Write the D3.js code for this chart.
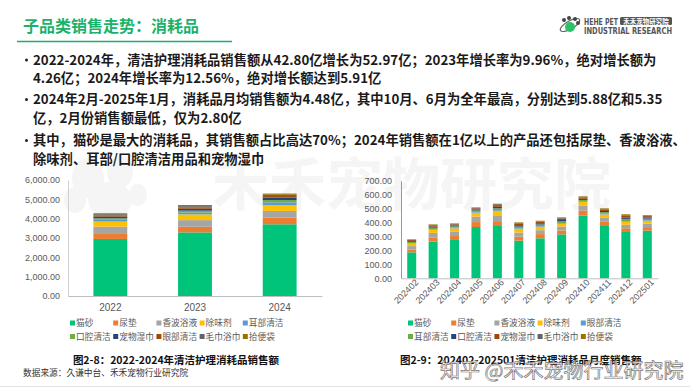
<!DOCTYPE html>
<html>
<head>
<meta charset="utf-8">
<script src="https://cdn.jsdelivr.net/npm/d3@7"></script>
<style>
  body { margin: 0; background: #fff; }
  svg { display: block; font-family: "Noto Sans CJK SC", "Noto Sans", sans-serif; }
</style>
</head>
<body>
<svg id="chart" width="690" height="388"></svg>
<script>
// annual data (百万元)
var years = ['2022', '2023', '2024'];
var yearSeries = ['猫砂', '尿垫', '香波浴液', '除味剂', '耳部清洁', '口腔清洁', '宠物湿巾', '眼部清洁', '毛巾浴巾', '拾便袋'];
var yearValues = [
  [2950, 3290, 3710],
  [260, 290, 345],
  [380, 345, 345],
  [260, 295, 295],
  [90, 100, 150],
  [80, 95, 120],
  [90, 100, 130],
  [60, 70, 75],
  [60, 61, 65],
  [50, 60, 62]
];
var yearTicks = [0, 1000, 2000, 3000, 4000, 5000, 6000];

// monthly data (百万元)
var months = ['202402', '202403', '202404', '202405', '202406', '202407', '202408', '202409', '202410', '202411', '202412', '202501'];
var monthSeries = ['猫砂', '尿垫', '香波浴液', '除味剂', '眼部清洁', '耳部清洁', '口腔清洁', '宠物湿巾', '毛巾浴巾', '拾便袋'];
var monthValues = [
  [186, 263, 275, 368, 375, 270, 287, 315, 449, 375, 332, 342],
  [20, 28, 28, 35, 35, 28, 30, 28, 38, 30, 27, 25],
  [25, 35, 30, 40, 42, 30, 28, 28, 35, 28, 25, 25],
  [18, 22, 25, 28, 30, 25, 25, 20, 25, 25, 22, 20],
  [4, 5, 5, 5, 6, 5, 5, 5, 5, 5, 5, 5],
  [8, 10, 9, 10, 14, 13, 11, 12, 10, 11, 15, 11],
  [6, 8, 7, 8, 11, 10, 9, 10, 9, 9, 11, 9],
  [7, 9, 8, 8, 12, 11, 10, 11, 9, 10, 12, 9],
  [3, 4, 4, 4, 6, 5, 4, 4, 4, 5, 5, 4],
  [3, 3, 3, 3, 4, 4, 4, 4, 4, 4, 5, 4]
];
var monthTicks = [0, 100, 200, 300, 400, 500, 600, 700];

var palette = ['#00c47a', '#ed7d31', '#a5a5a5', '#ffc000', '#5b9bd5', '#70ad47', '#264478', '#9e480e', '#636363', '#997300'];

var bullets = [
  ['2022-2024年，清洁护理消耗品销售额从42.80亿增长为52.97亿；2023年增长率为9.96%，绝对增长额为',
   '4.26亿；2024年增长率为12.56%，绝对增长额达到5.91亿'],
  ['2024年2月-2025年1月，消耗品月均销售额为4.48亿，其中10月、6月为全年最高，分别达到5.88亿和5.35',
   '亿，2月份销售额最低，仅为2.80亿'],
  ['其中，猫砂是最大的消耗品，其销售额占比高达70%；2024年销售额在1亿以上的产品还包括尿垫、香波浴液、',
   '除味剂、耳部/口腔清洁用品和宠物湿巾']
];

var svg = d3.select('#chart');
var fmt = d3.format(',.2f');

// faint background watermark
var wm = svg.append('g').attr('fill', '#f5f5f5');
[[88, 178, 16, 20], [120, 172, 13, 16], [75, 200, 11, 13], [110, 200, 22, 18], [138, 195, 9, 11]].forEach(function(e) {
  wm.append('ellipse').attr('cx', e[0]).attr('cy', e[1]).attr('rx', e[2]).attr('ry', e[3]);
});
wm.append('text')
  .attr('x', 212)
  .attr('y', 205)
  .attr('font-size', 57)
  .attr('font-weight', 'bold')
  .text('禾禾宠物研究院');

// header
svg.append('text')
  .attr('x', 23)
  .attr('y', 32)
  .attr('font-size', 16)
  .attr('font-weight', 'bold')
  .attr('fill', '#1ab26b')
  .text('子品类销售走势：消耗品');
svg.append('line')
  .attr('x1', 17).attr('x2', 232)
  .attr('y1', 41.5).attr('y2', 41.5)
  .attr('stroke', '#1ab26b')
  .attr('stroke-width', 1.5);

// logo
var logo = svg.append('g').attr('font-family', '"DejaVu Sans Condensed", "Liberation Sans", sans-serif').attr('font-weight', 'bold');
logo.append('ellipse').attr('cx', 570).attr('cy', 25).attr('rx', 11).attr('ry', 4)
  .attr('transform', 'rotate(-30 570 25)').attr('fill', 'none').attr('stroke', '#666').attr('stroke-width', 1.2);
logo.append('ellipse').attr('cx', 570).attr('cy', 27).attr('rx', 5).attr('ry', 5).attr('fill', '#2fbf6a');
[[564, 20], [569, 18], [575, 19], [578, 23]].forEach(function(p) {
  logo.append('circle').attr('cx', p[0]).attr('cy', p[1]).attr('r', 2).attr('fill', '#444');
});
logo.append('text').attr('x', 584).attr('y', 24.5).attr('font-size', 8.5).attr('fill', '#555')
  .attr('textLength', 34).attr('lengthAdjust', 'spacingAndGlyphs').text('HEHE PET');
logo.append('rect').attr('x', 620).attr('y', 17).attr('width', 52).attr('height', 8).attr('rx', 1.5).attr('fill', '#555');
logo.append('text').attr('x', 646).attr('y', 24).attr('font-size', 6.5).attr('text-anchor', 'middle')
  .attr('font-family', '"Noto Sans CJK SC", sans-serif').attr('fill', '#fff').text('禾禾宠物研究院');
logo.append('text').attr('x', 584).attr('y', 34).attr('font-size', 8.5).attr('fill', '#555')
  .attr('textLength', 88).attr('lengthAdjust', 'spacingAndGlyphs').text('INDUSTRIAL RESEARCH');

// bullet text
var lineY = [[64.5, 83], [104, 123], [145, 164]];
bullets.forEach(function(b, i) {
  svg.append('circle')
    .attr('cx', 26.5).attr('cy', lineY[i][0] - 4.5)
    .attr('r', 1.5).attr('fill', '#222');
  b.forEach(function(line, j) {
    svg.append('text')
      .attr('x', 33).attr('y', lineY[i][j])
      .attr('font-size', 13.3)
      .attr('font-weight', 'bold')
      .attr('fill', '#1a1a1a')
      .text(line);
  });
});

function stackedChart(opts) {
  var g = svg.append('g');
  var x = d3.scaleBand().domain(opts.cats).range(opts.xRange)
    .paddingInner(opts.padIn).paddingOuter(opts.padOut);
  var y = d3.scaleLinear().domain([0, opts.max]).range(opts.yRange);

  var rows = opts.cats.map(function(c, ci) {
    var r = {cat: c};
    opts.series.forEach(function(s, si) { r[s] = opts.values[si][ci]; });
    return r;
  });
  var stack = d3.stack().keys(opts.series)(rows);

  g.selectAll('g.layer')
    .data(stack)
    .enter().append('g')
    .attr('class', 'layer')
    .attr('fill', function(d, i) { return palette[i]; })
    .selectAll('rect')
    .data(function(d) { return d; })
    .enter().append('rect')
    .attr('x', function(d) { return x(d.data.cat); })
    .attr('y', function(d) { return y(d[1]); })
    .attr('width', x.bandwidth())
    .attr('height', function(d) { return y(d[0]) - y(d[1]); });

  // value axis
  var ya = g.append('g')
    .attr('transform', 'translate(' + opts.xRange[0] + ',0)')
    .call(d3.axisLeft(y).tickValues(opts.ticks).tickFormat(fmt).tickSize(0).tickPadding(opts.tickPad));
  ya.select('.domain').attr('stroke', opts.axisColor);
  ya.selectAll('text').attr('fill', '#595959').attr('font-size', 9)
    .attr('font-family', '"Liberation Sans", Arial, sans-serif');

  // category axis
  var xa = g.append('g')
    .attr('transform', 'translate(0,' + opts.yRange[0] + ')')
    .call(d3.axisBottom(x).tickSize(0).tickPadding(opts.rotate ? 4 : 8));
  xa.select('.domain').attr('stroke', '#bfbfbf');
  var lbl = xa.selectAll('text').attr('fill', '#595959').attr('font-size', opts.rotate ? 9 : 10)
    .attr('font-family', '"Liberation Sans", Arial, sans-serif');
  if (opts.rotate) {
    lbl.attr('text-anchor', 'end')
      .attr('dx', '0.2em')
      .attr('dy', '0.5em')
      .attr('transform', 'rotate(-45)');
  }

  // legend
  var lg = g.append('g').attr('font-size', 8.7).attr('fill', '#595959');
  opts.series.forEach(function(s, i) {
    var lx = opts.legendX + (i % 5) * 43.2,
        ly = 323 + Math.floor(i / 5) * 13.5;
    lg.append('rect').attr('x', lx).attr('y', ly - 2.5).attr('width', 5).attr('height', 5).attr('fill', palette[i]);
    lg.append('text').attr('x', lx + 6).attr('y', ly + 3).text(s);
  });
}

stackedChart({
  cats: years, series: yearSeries, values: yearValues, ticks: yearTicks, max: 6000,
  xRange: [68, 322], yRange: [296, 180], padIn: 0.6, padOut: 0.3,
  tickPad: 8, axisColor: '#d0d0d0', legendX: 70, rotate: false
});
stackedChart({
  cats: months, series: monthSeries, values: monthValues, ticks: monthTicks, max: 700,
  xRange: [401, 658], yRange: [278.3, 180.7], padIn: 0.58, padOut: 0.29,
  tickPad: 9, axisColor: '#999', legendX: 408, rotate: true
});

// captions
svg.append('text')
  .attr('x', 176).attr('y', 364)
  .attr('text-anchor', 'middle')
  .attr('font-size', 10.5).attr('font-weight', 'bold').attr('fill', '#111')
  .text('图2-8：2022-2024年清洁护理消耗品销售额');
svg.append('text')
  .attr('x', 23).attr('y', 376)
  .attr('font-size', 8.7).attr('fill', '#333')
  .text('数据来源：久谦中台、禾禾宠物行业研究院');
svg.append('text')
  .attr('x', 400).attr('y', 364)
  .attr('font-size', 10.5).attr('font-weight', 'bold').attr('fill', '#111')
  .text('图2-9：202402-202501清洁护理消耗品月度销售额');

// site watermark
svg.append('text')
  .attr('x', 440).attr('y', 378)
  .attr('font-size', 20)
  .attr('fill', '#fff')
  .attr('fill-opacity', 0.85)
  .attr('stroke', '#7a7a7a')
  .attr('stroke-width', 0.7)
  .text('知乎 @禾禾宠物行业研究院');

svg.append('line')
  .attr('x1', 0).attr('x2', 690)
  .attr('y1', 386.5).attr('y2', 386.5)
  .attr('stroke', '#e3e3e3');
</script>
</body>
</html>
